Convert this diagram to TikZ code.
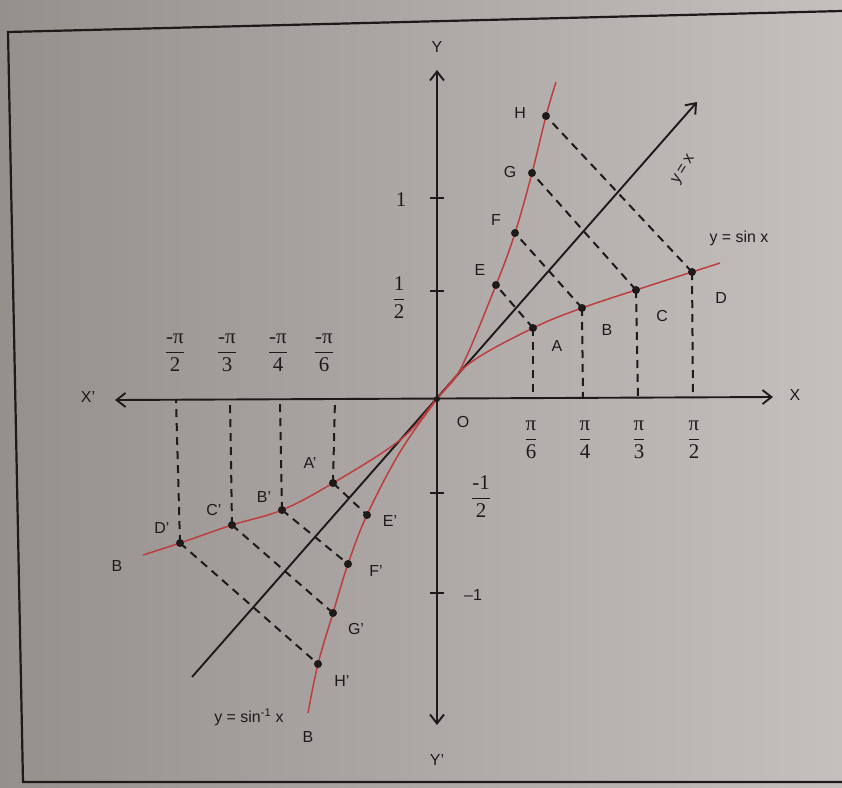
\documentclass[tikz,border=0pt]{standalone}
\usepackage{amsmath}
\usepackage{fontspec}
\setmainfont{Liberation Sans}
\newfontfamily\serif{Liberation Serif}
\usetikzlibrary{arrows.meta}
\definecolor{bgL}{RGB}{150,144,141}
\definecolor{bgR}{RGB}{196,192,190}
\definecolor{ink}{RGB}{30,26,26}
\definecolor{crv}{RGB}{190,62,62}
\newcommand\myfr[2]{$\dfrac{\mbox{\serif #1}}{\mbox{\serif #2}}$}
\tikzset{
  lbl/.style={text=ink,font=\fontsize{16}{18}\selectfont,inner sep=1bp},
  frc/.style={text=ink,font=\fontsize{21}{23}\selectfont,inner sep=1bp},
  axis/.style={draw=ink,line width=1.9bp},
  axarrow/.style={-{Straight Barb[length=9bp,width=14bp,line width=1.9bp]}},
  curve/.style={draw=crv,line width=1.5bp},
  dsh/.style={draw=ink,line width=2bp,dash pattern=on 8bp off 6bp},
  dotst/.style={circle,fill=ink,inner sep=0pt,minimum size=8bp},
  tck/.style={draw=ink,line width=1.4bp}
}
\begin{document}
\begin{tikzpicture}[x=1bp,y=-1bp]
\useasboundingbox (0,0) rectangle (842,788);
\shade[left color=bgL,right color=bgR] (0,0) rectangle (842,788);
% frame
\draw[ink,line width=2.2bp] (842,11) -- (8,32) -- (23,782) -- (842,782);

% coordinates
\coordinate (O) at (437,399);
\coordinate (A) at (533,328);
\coordinate (B) at (582,308);
\coordinate (C) at (636,290);
\coordinate (D) at (692,272);
\coordinate (E) at (496,285);
\coordinate (F) at (515,233);
\coordinate (G) at (532,173);
\coordinate (H) at (546,116);
\coordinate (A1) at (333,483);
\coordinate (B1) at (282,510);
\coordinate (C1) at (232,525);
\coordinate (D1) at (180,543);
\coordinate (E1) at (367,515);
\coordinate (F1) at (348,564);
\coordinate (G1) at (333,613);
\coordinate (H1) at (318,664);
\coordinate (sEnd) at (720,263);
\coordinate (sEndL) at (143,555);
\coordinate (aEnd) at (556,82);
\coordinate (aEndL) at (308,713);
\coordinate (t6) at (533,398);
\coordinate (t4) at (583,398);
\coordinate (t3) at (638,398);
\coordinate (t2) at (693,398);
\coordinate (m6) at (335,399);
\coordinate (m4) at (280,399);
\coordinate (m3) at (230,399);
\coordinate (m2) at (176,399);
\coordinate (Xr) at (773,397);
\coordinate (Xl) at (115,400);
\coordinate (Yt) at (437,70);
\coordinate (Yb) at (437,725);
\coordinate (LT) at (697,102);
\coordinate (LB) at (192,677);

% dashed projections
\foreach \p/\q in {A/t6,B/t4,C/t3,D/t2,A1/m6,B1/m4,C1/m3,D1/m2,A/E,B/F,C/G,D/H,A1/E1,B1/F1,C1/G1,D1/H1}
  \draw[dsh] (\p) -- (\q);

% axes
\draw[axis,{Straight Barb[length=9bp,width=14bp,line width=1.9bp]}-{Straight Barb[length=9bp,width=14bp,line width=1.9bp]}] (Xl) -- (Xr);
\draw[axis,{Straight Barb[length=9bp,width=14bp,line width=1.9bp]}-{Straight Barb[length=9bp,width=14bp,line width=1.9bp]}] (Yb) -- (Yt);
% y ticks
\foreach \yy in {198,291,493,593}
  \draw[tck] (430,\yy) -- (444,\yy);

% y = x line
\draw[axis,axarrow] (LB) -- (LT);

% curves
\draw[curve] plot[smooth,tension=0.6] coordinates {(sEndL) (D1) (C1) (B1) (A1) (400,440) (O) (470,363) (A) (B) (C) (D) (sEnd)};
\draw[curve] plot[smooth,tension=0.6] coordinates {(aEndL) (H1) (G1) (F1) (E1) (400,452) (O) (461,368) (E) (F) (G) (H) (aEnd)};

% dots
\foreach \p in {A,B,C,D,E,F,G,H,A1,B1,C1,D1,E1,F1,G1,H1}
  \node[dotst] (d\p) at (\p) {};
\node[dotst,minimum size=6bp] (dO) at (O) {};

% labels
\node[lbl] (lY) at (437,47) {Y};
\node[lbl] (lY1) at (437,760) {Y'};
\node[lbl] (lX) at (795,395) {X};
\node[lbl] (lX1) at (88,397) {X'};
\node[lbl] (lO) at (463,422) {O};
\node[lbl] (lH) at (520,113) {H};
\node[lbl] (lG) at (510,172) {G};
\node[lbl] (lF) at (496,220) {F};
\node[lbl] (lE) at (480,270) {E};
\node[lbl] (lA) at (557,346) {A};
\node[lbl] (lB) at (607,330) {B};
\node[lbl] (lC) at (662,316) {C};
\node[lbl] (lD) at (721,298) {D};
\node[lbl] (lsin) at (739,238) {y = sin x};
\node[lbl,rotate=58,inner sep=0pt] (lyx) at (684,170) {y\kern3bp=\kern3bp x};
\node[lbl] (lA1) at (310,463) {A'};
\node[lbl] (lB1) at (264,497) {B'};
\node[lbl] (lC1) at (214,510) {C'};
\node[lbl] (lD1) at (162,528) {D'};
\node[lbl] (lBL) at (117,566) {B};
\node[lbl] (lE1) at (390,521) {E'};
\node[lbl] (lF1) at (376,571) {F'};
\node[lbl] (lG1) at (356,629) {G'};
\node[lbl] (lH1) at (342,681) {H'};
\node[lbl] (lBB) at (308,737) {B};
\node[lbl] (lasin) at (249,717) {y = sin\textsuperscript{-1} x};

% fractions on x axis
\node[frc] (f6) at (531,440) {\myfr{π}{6}};
\node[frc] (f4) at (585,440) {\myfr{π}{4}};
\node[frc] (f3) at (639,440) {\myfr{π}{3}};
\node[frc] (f2) at (694,440) {\myfr{π}{2}};
\node[frc] (g2) at (175,353) {\myfr{-π}{2}};
\node[frc] (g3) at (227,353) {\myfr{-π}{3}};
\node[frc] (g4) at (278,353) {\myfr{-π}{4}};
\node[frc] (g6) at (324,353) {\myfr{-π}{6}};
% y axis labels
\node[frc] (y1) at (401,200) {\serif 1};
\node[frc] (yh) at (399,298) {\myfr{1}{2}};
\node[frc] (ymh) at (481,497) {\myfr{-1}{2}};
\node[lbl] (ym1) at (473,595) {–1};
\end{tikzpicture}
\end{document}
